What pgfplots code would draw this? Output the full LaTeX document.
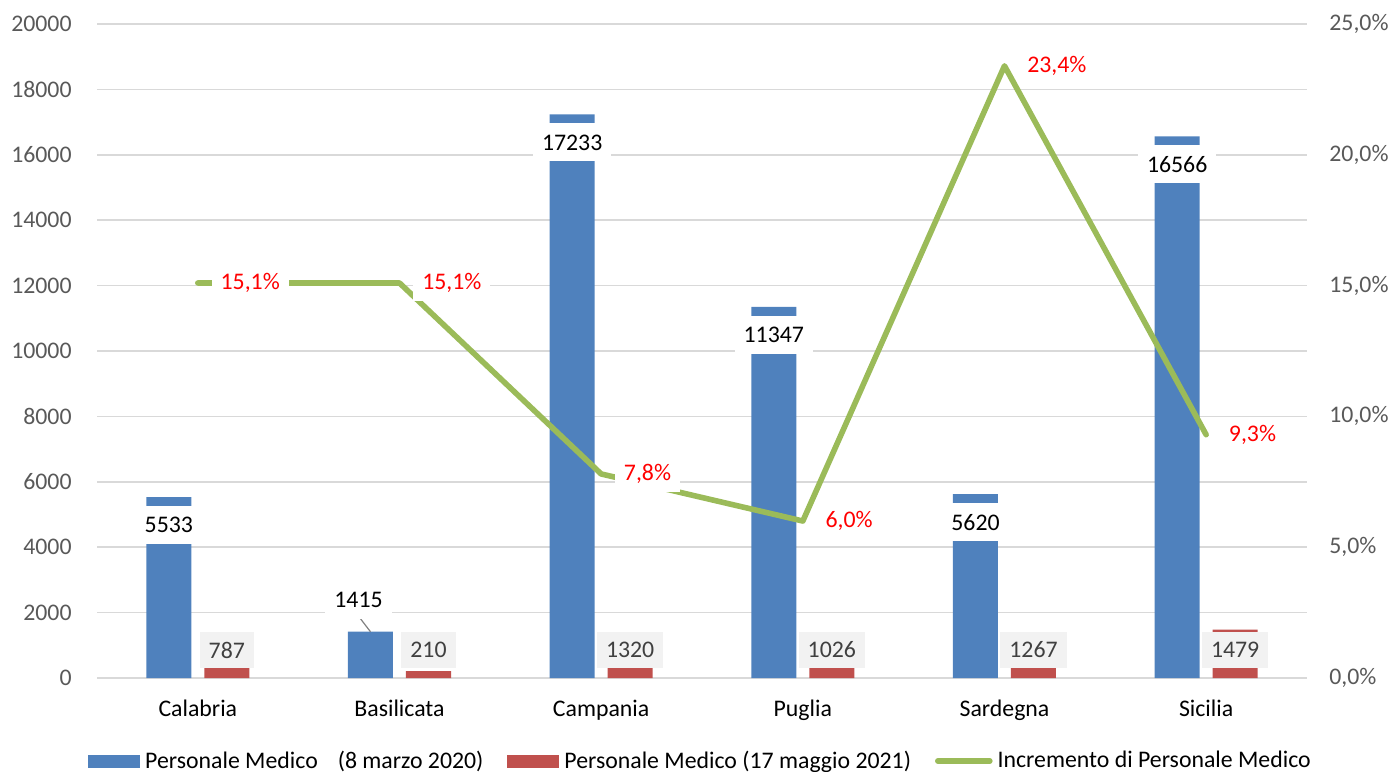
\documentclass[border=0pt]{standalone}
\usepackage{pgfplots}
\pgfplotsset{compat=1.18}
\usepackage{pgfplotstable}
\usepackage{fontspec}
\setmainfont{Carlito}
\definecolor{barblue}{HTML}{4F81BD}
\definecolor{barred}{HTML}{C0504D}
\definecolor{linegreen}{HTML}{9BBB59}
\definecolor{gridgray}{HTML}{D9D9D9}
\definecolor{ticktext}{HTML}{595959}
\definecolor{lblgray}{HTML}{F2F2F2}
\definecolor{lbltext}{HTML}{404040}
\newcommand\cf{\fontsize{11.9bp}{14bp}\selectfont}
\pgfplotsset{
  barlegend/.style={legend image code/.code={\fill[##1] (0bp,-3.25bp) rectangle (26bp,3.25bp);}},
  linelegend/.style={legend image code/.code={\draw[##1] (0bp,0bp) -- (26bp,0bp);}},
}
\pgfplotstableread{
x y dx dy
0 5533 -14.5 -14
1 1415 -20.5 16
2 17233 -14.5 -14
3 11347 -14.5 -14
4 5620 -14.5 -14
5 16566 -14.5 -14
}\bluedata
\pgfplotstableread{
x y dy
0 787 1.13
1 210 10.56
2 1320 -7.59
3 1026 -2.78
4 1267 -6.72
5 1479 -10.19
}\reddata
\pgfplotstableread{
x y
0 15.1
1 15.1
2 7.8
3 6.0
4 23.4
5 9.3
}\incdata
\begin{document}
\begin{tikzpicture}[font=\cf]
\begin{axis}[
  name=main,
  width=605bp, height=327bp, scale only axis,
  xmin=-0.5, xmax=5.5, ymin=0, ymax=20000,
  ytick={0,2000,...,20000},
  scaled y ticks=false,
  xtick={0,1,2,3,4,5},
  xticklabels={Calabria,Basilicata,Campania,Puglia,Sardegna,Sicilia},
  ymajorgrids, grid style={gridgray, line width=0.75bp},
  axis x line*=bottom, axis y line*=left,
  axis line style={-},
  x axis line style={gridgray, line width=0.75bp},
  y axis line style={draw=none},
  major tick length=0pt,
  /pgf/number format/1000 sep={},
  /pgf/number format/assume math mode=true,
  yticklabel style={font=\cf, text=ticktext, anchor=east, inner sep=0pt, xshift=-12.5bp},
  xticklabel style={font=\cf, text=black, anchor=north, inner sep=0pt, yshift=-11bp},
  clip=false,
]
\addplot[ybar, bar width=22.5bp, bar shift=-14.5bp, fill=barblue, draw=none,
  nodes near coords,
  visualization depends on={\thisrow{dx} \as \dx},
  visualization depends on={\thisrow{dy} \as \dy},
  every node near coord/.append style={font=\cf, anchor=center, xshift=\dx bp, yshift=\dy bp,
     fill=white, text=black, inner xsep=4.5bp, inner ysep=0pt, minimum height=19bp}]
  table[x=x, y=y]{\bluedata};
\addplot[ybar, bar width=22.5bp, bar shift=14.5bp, fill=barred, draw=none,
  nodes near coords,
  visualization depends on={\thisrow{dy} \as \dy},
  every node near coord/.append style={font=\cf, anchor=center, xshift=14.5bp, yshift=\dy bp,
     fill=lblgray, text=lbltext, inner xsep=4.5bp, inner ysep=0pt, minimum height=18bp}]
  table[x=x, y=y]{\reddata};
\addplot[gray, line width=0.6bp, forget plot] coordinates {(0.856,1415) (0.80,1865)};
\end{axis}
\begin{axis}[
  width=605bp, height=327bp, scale only axis,
  xmin=-0.5, xmax=5.5, ymin=0, ymax=25,
  ytick={0,5,...,25},
  axis y line*=right, axis x line=none,
  y axis line style={draw=none},
  major tick length=0pt,
  /pgf/number format/assume math mode=true,
  yticklabel={\pgfmathprintnumber[fixed,fixed zerofill,precision=1,use comma]{\tick}\%},
  yticklabel style={font=\cf, text=ticktext, anchor=west, inner sep=0pt, xshift=11bp},
  clip=false,
  legend style={at={(0.5,0)}, anchor=center, yshift=-41.5bp, draw=none, fill=none,
    legend columns=3, font=\cf, text=black,
    /tikz/every even column/.append style={column sep=9.5bp},
    nodes={inner xsep=2.5bp, inner ysep=1bp}},
]
\addlegendimage{barlegend, fill=barblue, draw=none}
\addlegendentry{Personale Medico\hspace{10bp}(8 marzo 2020)}
\addlegendimage{barlegend, fill=barred, draw=none}
\addlegendentry{Personale Medico (17 maggio 2021)}
\addplot[linegreen, line width=2.8bp, line cap=round, line join=round, linelegend,
  nodes near coords={\pgfmathprintnumber[fixed,fixed zerofill,precision=1,use comma]{\pgfplotspointmeta}\%},
  every node near coord/.append style={font=\cf, anchor=west, xshift=5.5bp,
     fill=white, text=red, inner xsep=4.5bp, inner ysep=0pt, minimum height=18bp}]
  table[x=x, y=y]{\incdata};
\addlegendentry{Incremento di Personale Medico}
\end{axis}
\pgfresetboundingbox
\path ([shift={(-48.5bp,-47bp)}]main.south west) rectangle ([shift={(645.5bp,339bp)}]main.south west);
\end{tikzpicture}
\end{document}
